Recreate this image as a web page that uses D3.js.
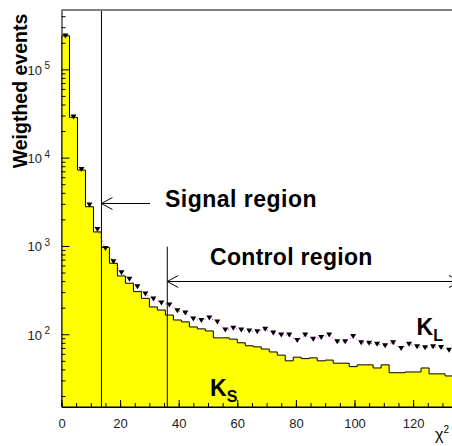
<!DOCTYPE html>
<html>
<head>
<meta charset="utf-8">
<script src="https://cdn.jsdelivr.net/npm/d3@7"></script>
<style>
  body { margin: 0; background: #fff; }
  text { font-family: "Liberation Sans", Arial, sans-serif; }
</style>
</head>
<body>
<div id="chart"></div>
<script>
// chi2 histogram, 55 bins over 0..150 (only the visible ones are listed)
const binWidth = 150 / 55;
const ksCounts = [240000, 28600, 7240, 2780, 1440, 962, 637, 457, 378, 304,
    255, 204, 188, 165, 145, 138, 121, 115, 109, 91,
    91, 88, 80, 74, 72, 68, 63, 58, 50, 55,
    53, 54, 50, 51, 47, 47, 43, 45, 45, 41.5,
    45, 36.7, 36.7, 37.4, 37.4, 41.5, 35.6, 35.6, 33.7];
const klCounts = [238000, 28800, 7350, 2910, 1535, 935, 664, 498, 420, 346,
    286, 251, 226, 215, 185, 174, 149, 143, 153, 138,
    112, 117, 112, 109, 107, 114, 103, 98, 98, 85,
    98, 88, 92, 98, 82, 82, 94, 80, 79, 77,
    74, 80, 69, 77, 72, 70.5, 72, 71, 66];
const xTicks = [0, 20, 40, 60, 80, 100, 120];
const yDecades = [2, 3, 4, 5];
const signalCut = 5 * binWidth;
const controlCut = 36.1;

const width = 452;
const height = 446;
const padLeft = 61.5, padTop = 10, padBottom = 407;

const svg = d3.select('#chart')
    .append('svg')
    .attr('width', width)
    .attr('height', height);

const x = d3.scaleLinear()
    .domain([0, 150])
    .range([padLeft, padLeft + 150 * 2.93]);

const y = d3.scaleLog()
    .domain([15, 470000])
    .range([padBottom, padTop]);

svg.append('clipPath')
    .attr('id', 'plot')
    .append('rect')
    .attr('x', padLeft)
    .attr('y', padTop)
    .attr('width', x(150) - padLeft)
    .attr('height', padBottom - padTop);

const plot = svg.append('g').attr('clip-path', 'url(#plot)');

// K_S histogram as a filled step line
let pathD = `M${x(0)},${y(15)}`;
ksCounts.forEach((v, i) => {
    pathD += `L${x(i * binWidth)},${y(v)}L${x((i + 1) * binWidth)},${y(v)}`;
});
pathD += `L${x(ksCounts.length * binWidth)},${y(15)}Z`;

plot.append('path')
    .attr('d', pathD)
    .attr('fill', '#ffff00')
    .attr('stroke', '#000')
    .attr('stroke-width', 1);

// cut lines
plot.append('line')
    .attr('x1', x(signalCut)).attr('x2', x(signalCut))
    .attr('y1', y(470000)).attr('y2', y(15))
    .attr('stroke', '#000');

plot.append('line')
    .attr('x1', x(controlCut)).attr('x2', x(controlCut))
    .attr('y1', y(982)).attr('y2', y(15))
    .attr('stroke', '#000');

// K_L points: dotted magenta line plus down triangles
const klLine = d3.line()
    .defined((d, i) => i >= 4)
    .x((d, i) => x((i + 0.5) * binWidth))
    .y(d => y(d));

plot.append('path')
    .attr('d', klLine(klCounts))
    .attr('fill', 'none')
    .attr('stroke', '#ff00ff')
    .attr('stroke-width', 1)
    .attr('stroke-dasharray', '1,3');

plot.selectAll('.kl')
    .data(klCounts)
    .enter().append('path')
    .attr('class', 'kl')
    .attr('transform', (d, i) => `translate(${x((i + 0.5) * binWidth)},${y(d)})`)
    .attr('d', 'M-3,-2.5L3,-2.5L0,2.5Z')
    .attr('fill', '#000');

// arrows
function arrow(x1, x2, yv, heads) {
    const yy = Math.round(y(yv)) + 0.5;
    plot.append('line')
        .attr('x1', x(x1)).attr('x2', x(x2))
        .attr('y1', yy).attr('y2', yy)
        .attr('stroke', '#000');
    heads.forEach(h => {
        const px = x(h.at);
        const dir = h.dir;
        plot.append('path')
            .attr('d', `M${px + dir * 11},${yy - 6}L${px},${yy}L${px + dir * 11},${yy + 6}`)
            .attr('fill', 'none')
            .attr('stroke', '#000');
    });
}
arrow(signalCut, 30.2, 3040, [{ at: signalCut, dir: 1 }]);
arrow(controlCut, 136, 401, [{ at: controlCut, dir: 1 }, { at: 136, dir: -1 }]);

plot.append('text')
    .attr('x', x(35.3)).attr('y', y(2740))
    .attr('font-size', 23).attr('font-weight', 'bold')
    .attr('letter-spacing', 0.5)
    .text('Signal region');

plot.append('text')
    .attr('x', x(50.7)).attr('y', y(608))
    .attr('font-size', 23).attr('font-weight', 'bold')
    .attr('letter-spacing', 0.3)
    .text('Control region');

// particle labels
function particle(xv, yv, main, sub) {
    const t = plot.append('text')
        .attr('x', x(xv)).attr('y', y(yv))
        .attr('font-size', 23).attr('font-weight', 'bold')
        .text(main);
    t.append('tspan')
        .attr('font-size', 16)
        .attr('dy', 6)
        .text(sub);
}
particle(50.7, 20, 'K', 'S');
particle(121.2, 98, 'K', 'L');

// frame top
svg.append('line')
    .attr('x1', padLeft).attr('x2', width)
    .attr('y1', padTop).attr('y2', padTop)
    .attr('stroke', '#808080')
    .attr('stroke-width', 2);

// x axis
const xAxis = svg.append('g')
    .attr('transform', `translate(0,${padBottom})`)
    .call(d3.axisBottom(x).tickValues(xTicks).tickSize(-7).tickSizeOuter(0).tickPadding(12));
xAxis.select('.domain').attr('stroke', '#000');
xAxis.selectAll('text')
    .attr('font-size', 13)
    .attr('fill', '#222')
    .style('font-family', '"Liberation Sans", Arial, sans-serif');

svg.append('g')
    .attr('transform', `translate(0,${padBottom})`)
    .call(d3.axisBottom(x).tickValues(d3.range(0, 151, 5)).tickSize(-4).tickFormat(''))
    .select('.domain').remove();

// y axis
const yAxis = svg.append('g')
    .attr('transform', `translate(${padLeft},0)`)
    .call(d3.axisLeft(y).tickValues(yDecades.map(e => Math.pow(10, e)))
        .tickSize(-8).tickSizeOuter(0).tickFormat(''));
yAxis.select('.domain').attr('stroke', '#000');

const minors = [];
[1, 2, 3, 4, 5].forEach(e => {
    for (let k = 2; k <= 9; k++) {
        const v = k * Math.pow(10, e);
        if (v >= 15 && v <= 470000) minors.push(v);
    }
});
svg.append('g')
    .attr('transform', `translate(${padLeft},0)`)
    .call(d3.axisLeft(y).tickValues(minors).tickSize(-4).tickFormat(''))
    .select('.domain').remove();

yDecades.forEach(e => {
    svg.append('text')
        .attr('x', 42)
        .attr('y', y(Math.pow(10, e)) + 5.5)
        .attr('text-anchor', 'end')
        .attr('font-size', 13)
        .attr('fill', '#222')
        .text('10');
    svg.append('text')
        .attr('x', 44.5)
        .attr('y', y(Math.pow(10, e)))
        .attr('font-size', 10)
        .attr('fill', '#222')
        .text(e);
});

// axis titles
svg.append('text')
    .attr('transform', `translate(27,${91}) rotate(-90)`)
    .attr('text-anchor', 'middle')
    .attr('font-size', 19.5)
    .attr('font-weight', 'bold')
    .text('Weigthed events');

const xt = svg.append('text')
    .attr('x', 435)
    .attr('y', 440)
    .attr('font-size', 16)
    .text('χ');
xt.append('tspan')
    .attr('font-size', 10)
    .attr('dy', -7)
    .text('2');
</script>
</body>
</html>
